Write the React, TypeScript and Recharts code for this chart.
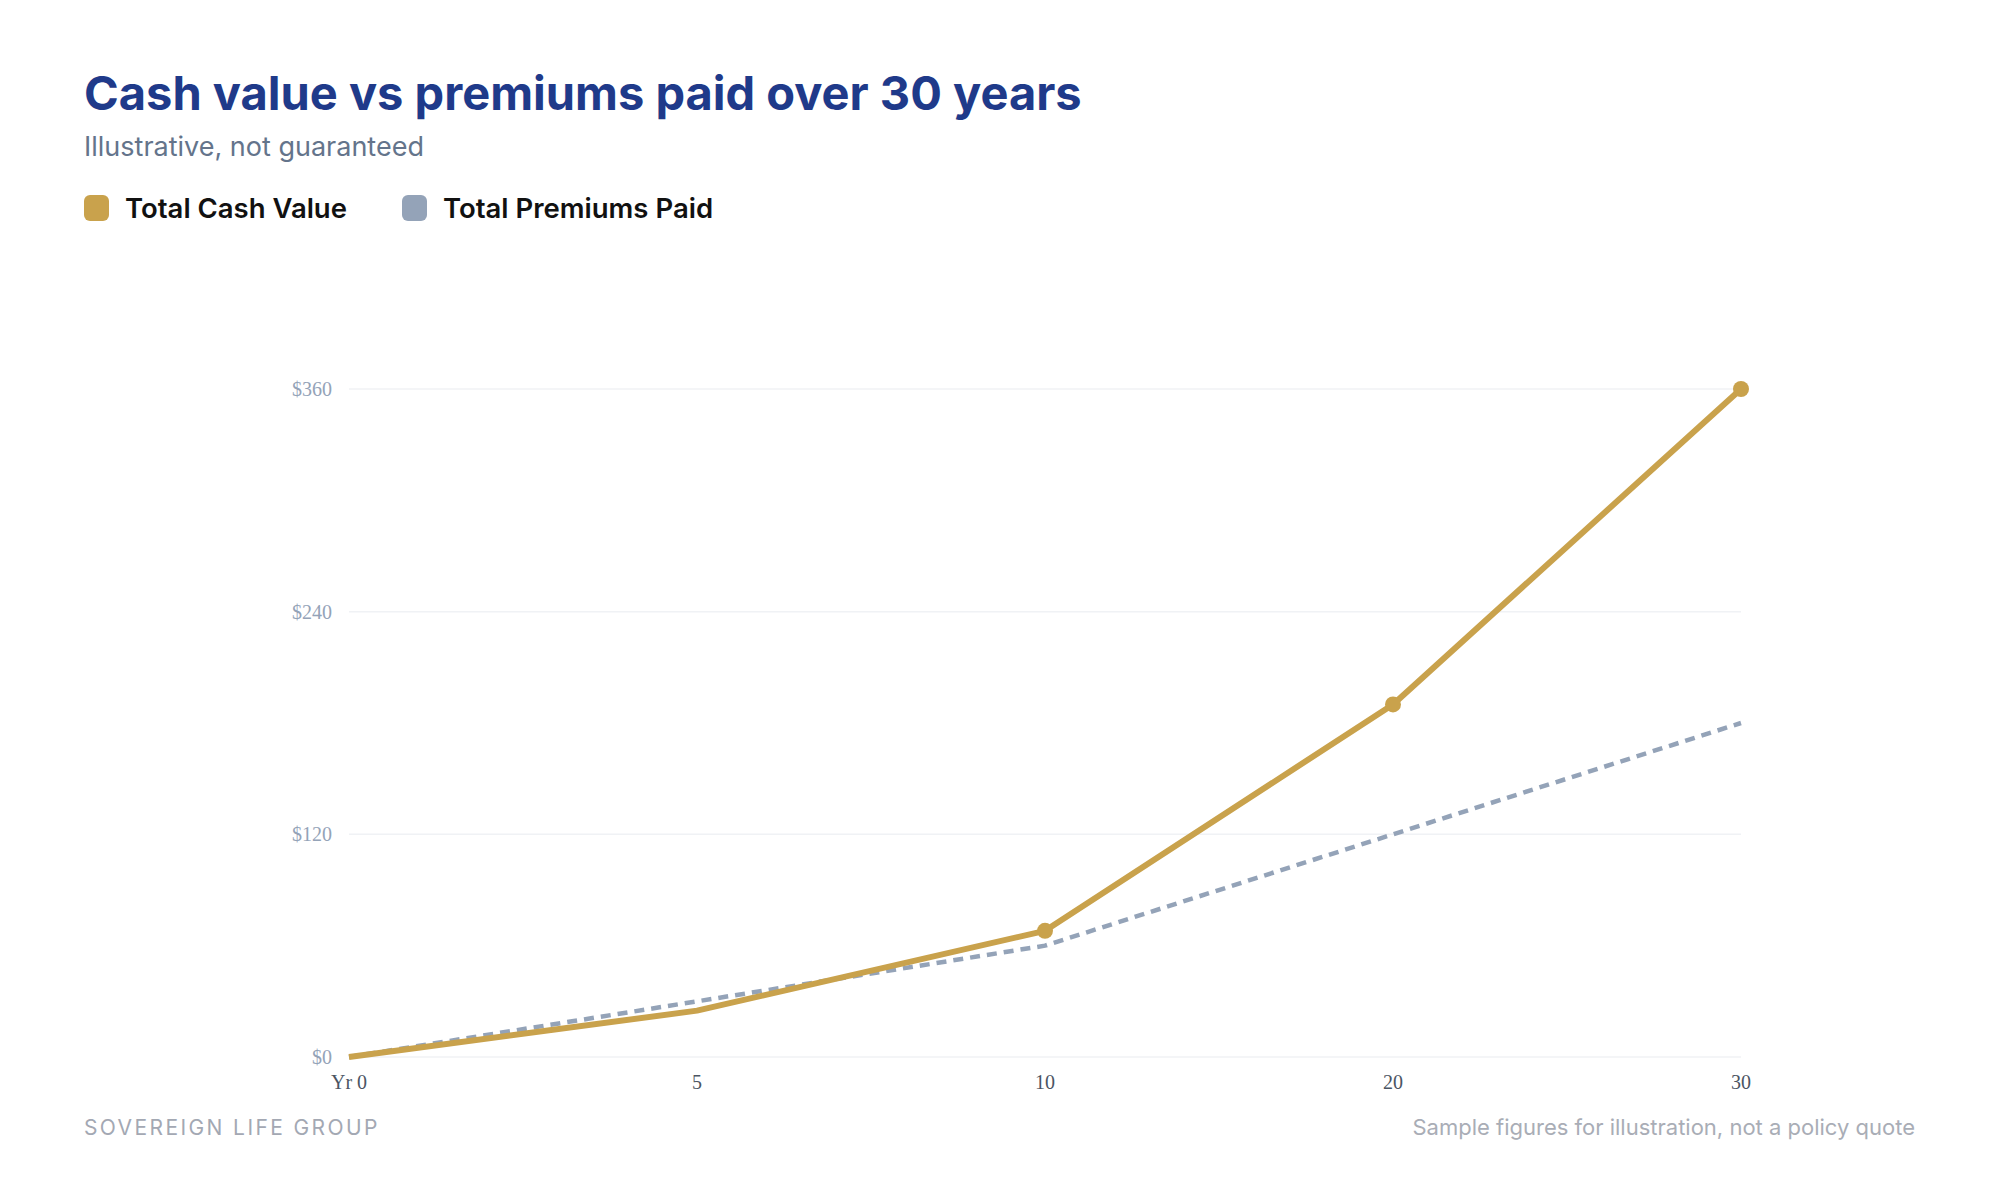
import { LineChart, Line, XAxis, YAxis, CartesianGrid } from "recharts";

const years = ["Yr 0", "5", "10", "20", "30"];
const cashValue = [0, 25, 68, 190, 360];
const premiumsPaid = [0, 30, 60, 120, 180];
const yTicks = [0, 120, 240, 360];
// only the later policy years get a marker on the cash value line
const markedYears = ["10", "20", "30"];

const GOLD = "#c9a24c";
const SLATE = "#94a3b8";
const NAVY = "#1f3a8a";
const SANS = "Inter, 'Noto Sans', sans-serif";
const SERIF = "'Liberation Serif', serif";

const chartData = years.map((year, i) => ({
  year,
  cash: cashValue[i],
  premiums: premiumsPaid[i],
}));

const renderCashDot = (props: any) => {
  const { cx, cy, payload, index } = props;
  if (!markedYears.includes(payload.year)) return <g key={`dot-${index}`} />;
  return <circle key={`dot-${index}`} cx={cx} cy={cy} r={8} fill={GOLD} />;
};

function LegendItem({ color, label }: { color: string; label: string }) {
  return (
    <div style={{ display: "flex", alignItems: "center", marginRight: 55 }}>
      <span
        style={{
          width: 25,
          height: 26,
          borderRadius: 6,
          background: color,
          display: "inline-block",
          marginRight: 16,
        }}
      />
      <span style={{ fontSize: 27.5, fontWeight: 600, color: "#111" }}>{label}</span>
    </div>
  );
}

export default function App() {
  return (
    <div
      style={{
        position: "absolute",
        left: 0,
        top: 0,
        width: 2000,
        height: 1200,
        background: "#fff",
        fontFamily: SANS,
        overflow: "hidden",
      }}
    >
      <div
        style={{
          position: "absolute",
          left: 84,
          top: 64,
          fontSize: 47,
          fontWeight: 700,
          color: NAVY,
          whiteSpace: "nowrap",
        }}
      >
        Cash value vs premiums paid over 30 years
      </div>
      <div style={{ position: "absolute", left: 84, top: 130, fontSize: 27, color: "#64748b" }}>
        Illustrative, not guaranteed
      </div>
      <div style={{ position: "absolute", left: 84, top: 191, display: "flex" }}>
        <LegendItem color={GOLD} label="Total Cash Value" />
        <LegendItem color={SLATE} label="Total Premiums Paid" />
      </div>

      <div style={{ position: "absolute", left: 0, top: 340 }}>
        <LineChart
          width={1800}
          height={800}
          data={chartData}
          margin={{ top: 49, right: 59, bottom: 53, left: 0 }}
        >
          <CartesianGrid vertical={false} stroke="#f0f2f5" strokeWidth={1.5} />
          <XAxis
            dataKey="year"
            axisLine={false}
            tickLine={false}
            tickMargin={12}
            tick={{ fill: "#4b5563", fontSize: 20, fontFamily: SERIF }}
          />
          <YAxis
            width={349}
            domain={[0, 360]}
            ticks={yTicks}
            axisLine={false}
            tickLine={false}
            tickMargin={11}
            tickFormatter={(v) => `$${v}`}
            tick={{ fill: SLATE, fontSize: 20, fontFamily: SERIF }}
          />
          <Line
            type="linear"
            dataKey="premiums"
            stroke={SLATE}
            strokeWidth={4.5}
            strokeDasharray="10 7"
            dot={false}
            activeDot={false}
            isAnimationActive={false}
          />
          <Line
            type="linear"
            dataKey="cash"
            stroke={GOLD}
            strokeWidth={6}
            strokeLinejoin="round"
            dot={renderCashDot}
            activeDot={false}
            isAnimationActive={false}
          />
        </LineChart>
      </div>

      <div
        style={{
          position: "absolute",
          left: 84,
          top: 1115,
          fontSize: 21,
          letterSpacing: 2.4,
          color: "#a3a8b3",
        }}
      >
        SOVEREIGN LIFE GROUP
      </div>
      <div
        style={{
          position: "absolute",
          right: 85,
          top: 1114,
          fontSize: 22,
          color: "#a9adb6",
        }}
      >
        Sample figures for illustration, not a policy quote
      </div>
    </div>
  );
}
